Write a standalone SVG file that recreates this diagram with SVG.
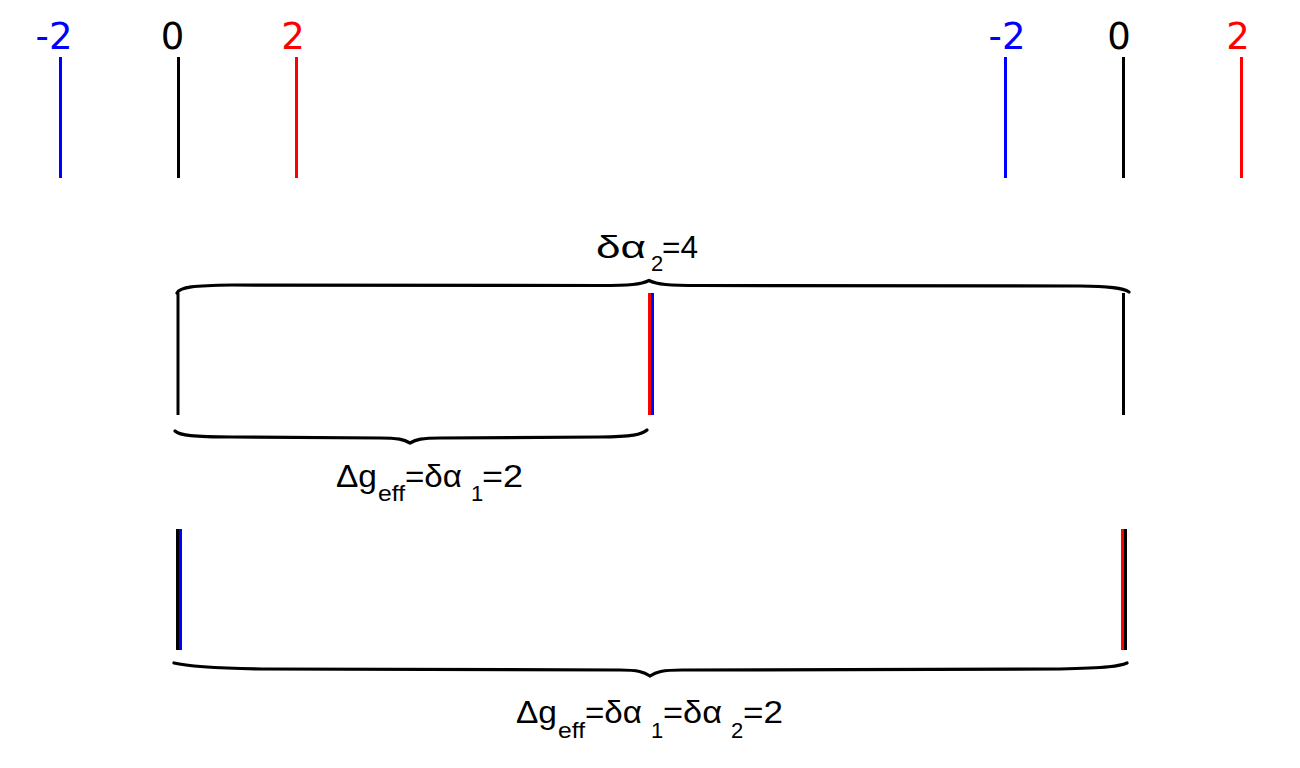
<svg xmlns="http://www.w3.org/2000/svg" width="1300" height="768" viewBox="0 0 1300 768">
<style>
.tick{stroke-width:3;fill:none}
.k{stroke:#000}.b{stroke:#0000ff}.r{stroke:#ff0000}
.num{font-family:"DejaVu Sans",sans-serif;font-size:37px;text-anchor:middle}
.brace{fill:none;stroke:#000;stroke-width:3.2;stroke-linecap:round}
.lbl{font-family:"Liberation Sans",Arial,sans-serif;font-size:32px;fill:#000}
.sub{font-size:22px}
</style>
<rect width="1300" height="768" fill="#fff"/>
<g id="scale-left">
<text class="num" x="54" y="49" fill="#0000ff">-2</text>
<text class="num" x="172.5" y="49" fill="#000">0</text>
<text class="num" x="293" y="49" fill="#ff0000">2</text>
<line class="tick b" x1="60.5" y1="57" x2="60.5" y2="178"/>
<line class="tick k" x1="178.5" y1="57" x2="178.5" y2="178"/>
<line class="tick r" x1="296.5" y1="57" x2="296.5" y2="178"/>
</g>
<g id="scale-right">
<text class="num" x="1007" y="49" fill="#0000ff">-2</text>
<text class="num" x="1119" y="49" fill="#000">0</text>
<text class="num" x="1238" y="49" fill="#ff0000">2</text>
<line class="tick b" x1="1005.5" y1="57" x2="1005.5" y2="178"/>
<line class="tick k" x1="1123.5" y1="57" x2="1123.5" y2="178"/>
<line class="tick r" x1="1241.5" y1="57" x2="1241.5" y2="178"/>
</g>
<g id="row-middle">
<line class="tick k" x1="178" y1="293" x2="178" y2="415"/>
<line class="tick r" x1="649.5" y1="293" x2="649.5" y2="415"/>
<line class="tick b" x1="652.5" y1="293" x2="652.5" y2="415"/>
<line class="tick k" x1="1123.5" y1="293" x2="1123.5" y2="415"/>
</g>
<g id="row-bottom">
<line class="tick k" x1="177.5" y1="529" x2="177.5" y2="650"/>
<line class="tick b" x1="180.5" y1="529" x2="180.5" y2="650"/>
<line class="tick r" x1="1122.5" y1="529" x2="1122.5" y2="650"/>
<line class="tick k" x1="1125.5" y1="529" x2="1125.5" y2="650"/>
</g>
<g id="connectors">
<path class="brace" d="M177,293 C180,287 194,285.5 232,285 L600,285.5 C630,285.5 641,284.5 649,280.5 C657,284.5 668,285.5 700,285.5 L1080,286 C1110,286.5 1123,288 1129,292"/>
<path class="brace" d="M175,431 C180,435.5 193,437 232,437 L380,438 C398,438 404,439.5 410,443 C416,439.5 422,438 440,438 L600,437 C632,437 642,434.5 647,430"/>
<path class="brace" d="M174,663 C182,665 205,668 262,669 L620,670 C638,670 644,672 650,676 C656,672 662,670 682,670 L1060,669 C1108,668 1120,666 1127,663"/>
</g>
<g id="label-top">
<text class="lbl"><tspan x="596" y="258" textLength="50" lengthAdjust="spacingAndGlyphs">δα</tspan><tspan class="sub" x="651" y="271">2</tspan><tspan x="662" y="258" textLength="36" lengthAdjust="spacingAndGlyphs">=4</tspan></text>
</g>
<g id="label-mid">
<text class="lbl"><tspan x="336" y="487" textLength="41" lengthAdjust="spacingAndGlyphs">Δg</tspan><tspan class="sub" x="378" y="501" textLength="27" lengthAdjust="spacingAndGlyphs">eff</tspan><tspan x="405" y="487" textLength="57" lengthAdjust="spacingAndGlyphs">=δα</tspan><tspan class="sub" x="471" y="501">1</tspan><tspan x="482" y="487" textLength="41" lengthAdjust="spacingAndGlyphs">=2</tspan></text>
</g>
<g id="label-bottom">
<text class="lbl"><tspan x="516" y="723" textLength="41" lengthAdjust="spacingAndGlyphs">Δg</tspan><tspan class="sub" x="558" y="738" textLength="27" lengthAdjust="spacingAndGlyphs">eff</tspan><tspan x="585" y="723" textLength="57" lengthAdjust="spacingAndGlyphs">=δα</tspan><tspan class="sub" x="651" y="738">1</tspan><tspan x="663" y="723" textLength="59" lengthAdjust="spacingAndGlyphs">=δα</tspan><tspan class="sub" x="731" y="738">2</tspan><tspan x="743" y="723" textLength="40" lengthAdjust="spacingAndGlyphs">=2</tspan></text>
</g>
</svg>
